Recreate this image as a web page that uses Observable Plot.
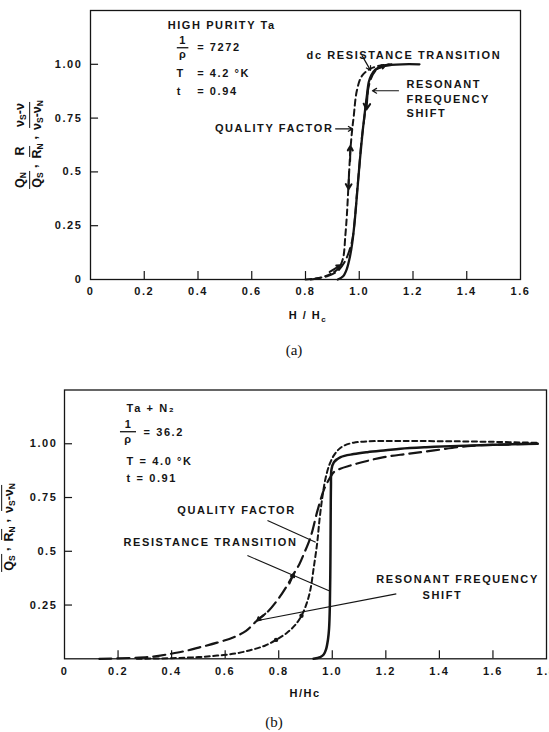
<!DOCTYPE html>
<html><head><meta charset="utf-8">
<script src="https://cdn.jsdelivr.net/npm/d3@7"></script>
<script src="https://cdn.jsdelivr.net/npm/@observablehq/plot@0.6"></script>
<style>
html,body{margin:0;padding:0;background:#fff;}
#page{position:relative;width:549px;height:732px;overflow:hidden;background:#fff;font-family:"Liberation Sans",Arial,sans-serif;color:#111;}
.fig{position:absolute;left:0;}
.fig svg{display:block;overflow:visible;}
.cap{position:absolute;font-family:"Liberation Serif","Times New Roman",serif;font-size:15px;transform:translate(-50%,-50%);color:#111;}
.xt{position:absolute;font-weight:bold;font-size:11px;letter-spacing:1.5px;transform:translate(-50%,-50%);white-space:nowrap;}
.xt sub{font-size:8px;vertical-align:-3px;}
.yl{position:absolute;transform:translate(-50%,-50%) rotate(-90deg);white-space:nowrap;font-weight:bold;font-size:12.5px;display:flex;align-items:center;}
.frac{display:inline-flex;flex-direction:column;align-items:center;margin:0 2px;line-height:1.1;}
.frac .n{border-bottom:1.5px solid #111;padding:0 1px 1px;}
.frac .d{padding:1px 1px 0;}
.yl sub{font-size:8.5px;vertical-align:-2px;}
.cm{margin:7px 3px 0 1px;}
</style>
</head><body>
<div id="page">
  <div class="fig" id="figA" style="top:0"></div>
  <div class="fig" id="figB" style="top:370px"></div>
  <div class="yl" style="left:30px;top:144px">
    <span class="frac"><span class="n">Q<sub>N</sub></span><span class="d">Q<sub>S</sub></span></span><span class="cm">,</span>
    <span class="frac"><span class="n">R</span><span class="d">R<sub>N</sub></span></span><span class="cm">,</span>
    <span class="frac"><span class="n">ν<sub>S</sub>-ν</span><span class="d">ν<sub>S</sub>-ν<sub>N</sub></span></span>
  </div>
  <div class="yl" style="left:2px;top:527px">
    <span class="frac"><span class="n">Q<sub>N</sub></span><span class="d">Q<sub>S</sub></span></span><span class="cm">,</span>
    <span class="frac"><span class="n">R</span><span class="d">R<sub>N</sub></span></span><span class="cm">,</span>
    <span class="frac"><span class="n">ν<sub>S</sub>-ν</span><span class="d">ν<sub>S</sub>-ν<sub>N</sub></span></span>
  </div>
  <div class="xt" style="left:308px;top:316px">H / H<sub>c</sub></div>
  <div class="xt" style="left:305px;top:693px">H/Hc</div>
  <div class="cap" style="left:294px;top:350px">(a)</div>
  <div class="cap" style="left:274px;top:722px">(b)</div>
</div>
<script>
// ---------- Panel (a): High purity Ta ----------
const xTicksA = [0, 0.2, 0.4, 0.6, 0.8, 1.0, 1.2, 1.4, 1.6];
const xLabelsA = ["0", "0.2", "0.4", "0.6", "0.8", "1.0", "1.2", "1.4", "1.6"];
const yTicksA = [0, 0.25, 0.5, 0.75, 1.0];
const yLabelsA = ["0", "0.25", "0.5", "0.75", "1.00"];

// Quality factor (short dashes)
const qualityAx = [0.80, 0.86, 0.90, 0.925, 0.94, 0.948, 0.954, 0.960, 0.967, 0.974, 0.979, 0.991, 1.01, 1.04, 1.08, 1.12];
const qualityAy = [0.00, 0.01, 0.03, 0.055, 0.10, 0.20, 0.30, 0.44, 0.60, 0.70, 0.753, 0.877, 0.946, 0.978, 0.995, 1.00];
// Resonant frequency shift (long dashes)
const resonantAx = [0.82, 0.88, 0.92, 0.945, 0.962, 0.975, 0.985, 0.992, 1.0, 1.008, 1.016, 1.024, 1.04, 1.06, 1.09, 1.12];
const resonantAy = [0.00, 0.015, 0.04, 0.08, 0.13, 0.19, 0.30, 0.41, 0.52, 0.64, 0.72, 0.80, 0.92, 0.97, 0.993, 1.00];
// dc resistance transition (solid)
const resistAx = [0.92, 0.94, 0.954, 0.966, 0.974, 0.983, 0.992, 1.002, 1.012, 1.022, 1.029, 1.035, 1.045, 1.06, 1.085, 1.12, 1.16, 1.224];
const resistAy = [0.00, 0.015, 0.05, 0.11, 0.17, 0.27, 0.40, 0.55, 0.68, 0.79, 0.86, 0.915, 0.95, 0.975, 0.99, 0.997, 1.0, 1.0];

const notesAText = ["HIGH PURITY Ta", "= 7272", "= 4.2 °K", "= 0.94", "dc RESISTANCE TRANSITION", "RESONANT", "FREQUENCY", "SHIFT"];
const notesAx = [0.287, 0.397, 0.397, 0.397, 0.804, 1.176, 1.176, 1.176];
const notesAy = [1.179, 1.077, 0.956, 0.872, 1.042, 0.905, 0.835, 0.770];
const symAText = ["1", "ρ", "T", "t"];
const symAx = [0.345, 0.345, 0.335, 0.331];
const symAy = [1.112, 1.045, 0.956, 0.872];
const endAText = ["QUALITY FACTOR"];
const endAx = [0.904];
const endAy = [0.70];
// leader arrows [x1, y1, x2, y2]
const leadA = [[0.912, 0.70, 0.975, 0.70], [1.146, 0.877, 1.049, 0.877], [1.011, 1.039, 1.042, 0.972]];
// arrowheads drawn on the curves
const headsA = [[0.966, 0.55, 0.967, 0.62], [0.962, 0.50, 0.960, 0.42], [1.032, 0.88, 1.027, 0.79], [1.06, 0.975, 1.095, 0.993], [0.89, 0.035, 0.93, 0.066]];

// ---------- Panel (b): Ta + N2 ----------
const xTicksB = [0, 0.2, 0.4, 0.6, 0.8, 1.0, 1.2, 1.4, 1.6, 1.8];
const xLabelsB = ["0", "0.2", "0.4", "0.6", "0.8", "1.0", "1.2", "1.4", "1.6", "1.8"];
const yTicksB = [0.25, 0.5, 0.75, 1.0];
const yLabelsB = ["0.25", "0.5", "0.75", "1.00"];

const qualityBx = [0.27, 0.40, 0.50, 0.57, 0.64, 0.70, 0.75, 0.79, 0.83, 0.86, 0.885, 0.905, 0.918, 0.931, 0.944, 0.952, 0.963, 0.975, 0.99, 1.006, 1.025, 1.045, 1.08, 1.13, 1.25, 1.40, 1.60, 1.77];
const qualityBy = [0.0, 0.003, 0.008, 0.015, 0.025, 0.042, 0.062, 0.088, 0.12, 0.155, 0.20, 0.26, 0.32, 0.426, 0.542, 0.643, 0.752, 0.84, 0.905, 0.946, 0.975, 0.992, 1.005, 1.011, 1.013, 1.012, 1.009, 1.004];
const resonantBx = [0.13, 0.25, 0.33, 0.395, 0.45, 0.507, 0.57, 0.632, 0.678, 0.719, 0.76, 0.794, 0.826, 0.856, 0.877, 0.894, 0.919, 0.945, 0.97, 0.993, 1.006, 1.03, 1.068, 1.13, 1.193, 1.28, 1.38, 1.505, 1.62, 1.767];
const resonantBy = [0.0, 0.004, 0.01, 0.023, 0.036, 0.054, 0.075, 0.10, 0.13, 0.178, 0.22, 0.271, 0.33, 0.395, 0.44, 0.488, 0.566, 0.69, 0.79, 0.845, 0.868, 0.884, 0.899, 0.92, 0.938, 0.953, 0.969, 0.989, 0.996, 1.0];
const resistBx = [0.93, 0.955, 0.968, 0.977, 0.984, 0.988, 0.991, 0.993, 0.994, 0.995, 0.997, 1.006, 1.031, 1.08, 1.131, 1.2, 1.255, 1.35, 1.442, 1.6, 1.767];
const resistBy = [0.0, 0.008, 0.02, 0.045, 0.09, 0.14, 0.25, 0.45, 0.65, 0.80, 0.88, 0.914, 0.938, 0.952, 0.961, 0.97, 0.977, 0.984, 0.989, 0.995, 1.0];

const notesBText = ["Ta + N₂", "= 36.2", "T = 4.0 °K", "t = 0.91", "QUALITY FACTOR", "RESONANT FREQUENCY", "SHIFT"];
const notesBx = [0.232, 0.295, 0.232, 0.232, 0.421, 1.164, 1.337];
const notesBy = [1.163, 1.052, 0.917, 0.838, 0.689, 0.367, 0.294];
const symBText = ["1", "ρ"];
const symBx = [0.239, 0.239];
const symBy = [1.090, 1.018];
const endBText = ["RESISTANCE TRANSITION"];
const endBx = [0.870];
const endBy = [0.542];
const leadB = [[0.758, 0.643, 0.938, 0.542], [0.683, 0.48, 0.988, 0.317], [1.239, 0.302, 0.722, 0.178]];
const headsB = [[0.75, 0.21, 0.72, 0.178], [0.84, 0.35, 0.856, 0.395]];
const dotsBx = [0.79, 0.885];
const dotsBy = [0.088, 0.20];

// ---------- helpers ----------
const pts = (xs, ys) => xs.map((x, i) => ({x, y: ys[i]}));
const segs = (arr) => arr.map(([x1, y1, x2, y2]) => ({x1, y1, x2, y2}));
const fmt = (ticks, labels) => d => labels[ticks.indexOf(d)];
const ink = "#151515";
const baseStyle = {fontFamily: "'Liberation Sans', Arial, sans-serif", fontSize: "11px", fontWeight: "bold", letterSpacing: "1.6px", color: ink, background: "transparent", overflow: "visible"};

const plotA = Plot.plot({
  width: 549, height: 330,
  marginTop: 10, marginBottom: 51, marginLeft: 90, marginRight: 29,
  x: {domain: [0, 1.6], label: null},
  y: {domain: [0, 1.25], label: null},
  style: baseStyle,
  marks: [
    Plot.frame({stroke: ink, strokeWidth: 1.3}),
    Plot.ruleX(xTicksA.slice(1, -1), {x: d => d, y1: 0, y2: 0.037, stroke: ink, strokeWidth: 1.2}),
    Plot.ruleY(yTicksA.slice(1), {y: d => d, x1: 0, x2: 0.03, stroke: ink, strokeWidth: 1.2}),
    Plot.axisX({ticks: xTicksA, tickFormat: fmt(xTicksA, xLabelsA), tickSize: 0, tickPadding: 8, label: null}),
    Plot.axisY({ticks: yTicksA, tickFormat: fmt(yTicksA, yLabelsA), tickSize: 0, tickPadding: 8, label: null}),
    Plot.line(pts(qualityAx, qualityAy), {x: "x", y: "y", curve: "catmull-rom", stroke: ink, strokeWidth: 2, strokeDasharray: "6,4"}),
    Plot.line(pts(resonantAx, resonantAy), {x: "x", y: "y", curve: "catmull-rom", stroke: ink, strokeWidth: 2, strokeDasharray: "10,5"}),
    Plot.line(pts(resistAx, resistAy), {x: "x", y: "y", curve: "catmull-rom", stroke: ink, strokeWidth: 2.3}),
    Plot.arrow(segs(leadA), {x1: "x1", y1: "y1", x2: "x2", y2: "y2", stroke: ink, strokeWidth: 1.2, headLength: 6}),
    Plot.arrow(segs(headsA), {x1: "x1", y1: "y1", x2: "x2", y2: "y2", stroke: ink, strokeWidth: 2, headLength: 6}),
    Plot.ruleY([1.077], {x1: 0.323, x2: 0.366, stroke: ink, strokeWidth: 1.3}),
    Plot.text(notesAText, {x: (d, i) => notesAx[i], y: (d, i) => notesAy[i], text: d => d, textAnchor: "start"}),
    Plot.text(symAText, {x: (d, i) => symAx[i], y: (d, i) => symAy[i], text: d => d, textAnchor: "middle", fontStyle: (d) => (d === "ρ" || d === "t") ? "italic" : "normal"}),
    Plot.text(endAText, {x: (d, i) => endAx[i], y: (d, i) => endAy[i], text: d => d, textAnchor: "end"})
  ]
});
document.getElementById("figA").append(plotA);

const plotB = Plot.plot({
  width: 549, height: 335,
  marginTop: 19.5, marginBottom: 46.7, marginLeft: 64, marginRight: 3,
  x: {domain: [0, 1.8], label: null},
  y: {domain: [0, 1.25], label: null},
  style: baseStyle,
  marks: [
    Plot.frame({stroke: ink, strokeWidth: 1.3}),
    Plot.ruleX(xTicksB.slice(1, -1), {x: d => d, y1: 0, y2: 0.037, stroke: ink, strokeWidth: 1.2}),
    Plot.ruleY(yTicksB, {y: d => d, x1: 0, x2: 0.03, stroke: ink, strokeWidth: 1.2}),
    Plot.axisX({ticks: xTicksB, tickFormat: fmt(xTicksB, xLabelsB), tickSize: 0, tickPadding: 8, label: null}),
    Plot.axisY({ticks: yTicksB, tickFormat: fmt(yTicksB, yLabelsB), tickSize: 0, tickPadding: 7, label: null}),
    Plot.line(pts(qualityBx, qualityBy), {x: "x", y: "y", curve: "catmull-rom", stroke: ink, strokeWidth: 2, strokeDasharray: "5,3.5"}),
    Plot.line(pts(resonantBx, resonantBy), {x: "x", y: "y", curve: "catmull-rom", stroke: ink, strokeWidth: 2.2, strokeDasharray: "12,6"}),
    Plot.line(pts(resistBx, resistBy), {x: "x", y: "y", curve: "catmull-rom", stroke: ink, strokeWidth: 2.5}),
    Plot.link(segs(leadB), {x1: "x1", y1: "y1", x2: "x2", y2: "y2", stroke: ink, strokeWidth: 1.1}),
    Plot.arrow(segs(headsB), {x1: "x1", y1: "y1", x2: "x2", y2: "y2", stroke: ink, strokeWidth: 2, headLength: 6}),
    Plot.dot(pts(dotsBx, dotsBy), {x: "x", y: "y", r: 2.2, fill: ink}),
    Plot.ruleY([1.056], {x1: 0.209, x2: 0.269, stroke: ink, strokeWidth: 1.3}),
    Plot.text(notesBText, {x: (d, i) => notesBx[i], y: (d, i) => notesBy[i], text: d => d, textAnchor: "start"}),
    Plot.text(symBText, {x: (d, i) => symBx[i], y: (d, i) => symBy[i], text: d => d, textAnchor: "middle", fontStyle: d => d === "ρ" ? "italic" : "normal"}),
    Plot.text(endBText, {x: (d, i) => endBx[i], y: (d, i) => endBy[i], text: d => d, textAnchor: "end"})
  ]
});
document.getElementById("figB").append(plotB);
</script>
</body></html>
